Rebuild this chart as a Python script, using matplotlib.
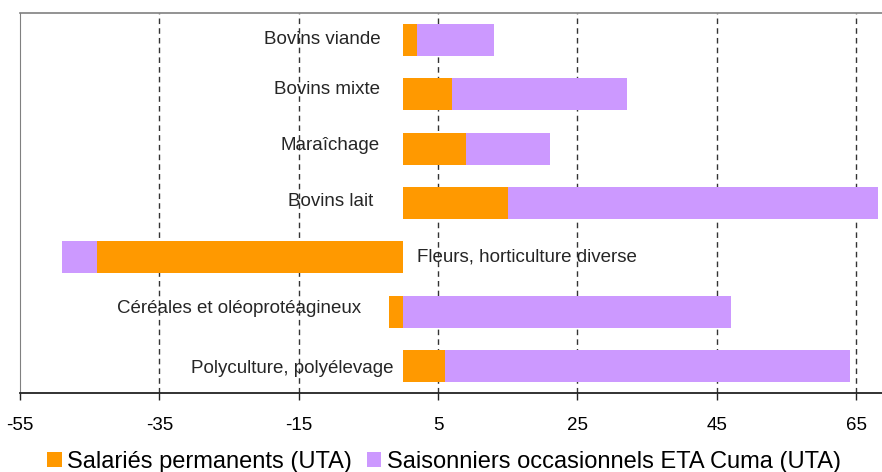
import numpy as np
import matplotlib.pyplot as plt

plt.rcParams['font.family'] = ['Liberation Sans', 'DejaVu Sans']

# categories, bottom to top
categories = ['Polyculture, polyélevage', 'Céréales et oléoprotéagineux',
              'Fleurs, horticulture diverse', 'Bovins lait', 'Maraîchage',
              'Bovins mixte', 'Bovins viande']
permanents = [6.0, -2.0, -44.0, 15.0, 9.0, 7.0, 2.0]
saisonniers = [58.1, 47.0, -5.0, 53.1, 12.1, 25.1, 11.0]
xticks = [-55, -35, -15, 5, 25, 45, 65]

# label placement (x offset from 0, y offset from bar)
lab_dx = [-1.4, -6.0, 1.9, -4.3, -3.4, -3.4, -3.2]
lab_dy = [-0.04, 0.06, 0.0, 0.03, 0.05, 0.10, 0.02]

ORANGE = '#FF9900'
PURPLE = '#CC99FF'

fig = plt.figure(figsize=(8.82, 4.72), dpi=100)
ax = fig.add_axes([20 / 882, 79 / 472, 862 / 882, 380 / 472])

y = np.arange(len(categories))
perm = np.array(permanents)
sais = np.array(saisonniers)
# excel style stacking: negatives stack on negatives
left2 = np.where(np.sign(perm) == np.sign(sais), perm, 0)

b1 = ax.barh(y, perm, height=0.59, color=ORANGE, label='Salariés permanents (UTA)', zorder=3)
b2 = ax.barh(y, sais, left=left2, height=0.59, color=PURPLE,
             label='Saisonniers occasionnels ETA Cuma (UTA)', zorder=3)

for i, name in enumerate(categories):
    ha = 'left' if lab_dx[i] > 0 else 'right'
    ax.text(lab_dx[i], y[i] + lab_dy[i], name, ha=ha, va='center',
            fontsize=13.5, color='#262626', zorder=4)

ax.set_xlim(-55, 68.7)
ax.set_ylim(-0.5, 6.5)
ax.set_xticks(xticks)
ax.set_xticklabels([str(t) for t in xticks], fontsize=13.5)
ax.set_yticks([])
ax.tick_params(axis='x', direction='out', length=5, width=1, pad=12, color='#222222')

for t in xticks[1:]:
    ax.axvline(t, color='#333333', lw=1, linestyle=(0, (4, 3)), zorder=1)

ax.spines['left'].set_color('#808080')
ax.spines['top'].set_color('#808080')
ax.spines['top'].set_linewidth(1.2)
ax.spines['right'].set_visible(False)
ax.spines['bottom'].set_color('#222222')
ax.spines['bottom'].set_linewidth(1.3)

fig.legend(handles=[b1, b2], loc='center', bbox_to_anchor=(444 / 882, 0.022),
           ncol=2, frameon=False, fontsize=17, handlelength=0.62, handleheight=0.62,
           handletextpad=0.25, columnspacing=0.6, borderaxespad=0)

fig.savefig('out.png', dpi=100)
